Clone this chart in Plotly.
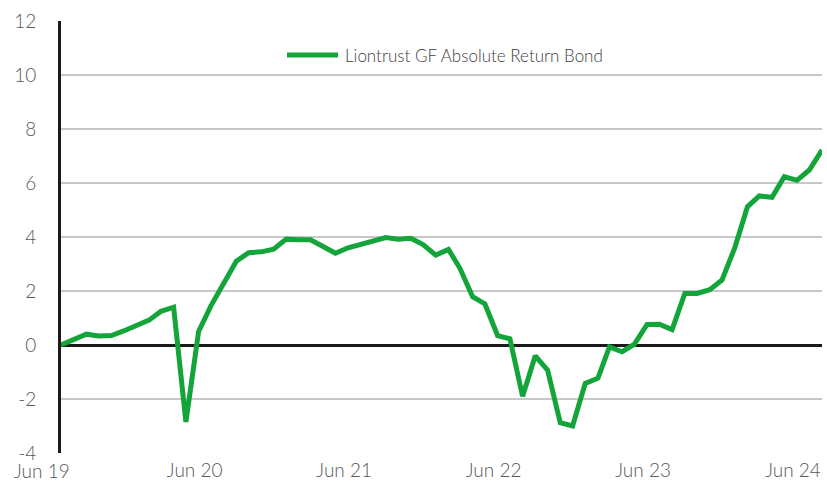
import plotly.graph_objects as go
import pandas as pd

# Monthly cumulative performance (%), Jul 2019 - Aug 2024
months = pd.date_range("2019-07-01", "2024-08-01", freq="MS")
values = [
    0.0, 0.2, 0.4, 0.33, 0.35, 0.52, 0.72, 0.92, 1.25, 1.4,
    -2.85, 0.5, 1.45, 2.25, 3.1, 3.42, 3.45, 3.55, 3.92, 3.9,
    3.9, 3.65, 3.4, 3.6, 3.72, 3.88, 3.98, 3.92, 3.95, 3.72,
    3.33, 3.54, 2.84, 1.79, 1.52, 0.35, 0.23, -1.9, -0.4, -0.93,
    -2.88, -3.0, -1.42, -1.23, -0.07, -0.25, 0.03, 0.76, 0.77, 0.57,
    1.91, 1.91, 2.05, 2.41, 3.6, 5.12, 5.52, 5.47, 6.23, 6.1,
    6.48, 7.22,
]
series_name = "Liontrust GF Absolute Return Bond"

y_tickvals = [-4, -2, 0, 2, 4, 6, 8, 10, 12]
y_ticktext = ["-4", "-2", "0", "2", "4", "6", "8", "10", "12"]
x_tickvals = ["2020-06-01", "2021-06-01", "2022-06-01", "2023-06-01", "2024-06-01"]
x_ticktext = ["Jun 20", "Jun 21", "Jun 22", "Jun 23", "Jun 24"]
first_label = "Jun 19"

GREEN = "#13A43A"
FONT = "Lato"
TICK_COLOR = "#595959"
tick_font = dict(size=19, color=TICK_COLOR, family=FONT, weight=300)

fig = go.Figure()
fig.add_trace(go.Scatter(
    x=months, y=values, mode="lines", name=series_name,
    line=dict(color=GREEN, width=5), showlegend=False,
))

fig.update_layout(
    width=827, height=483,
    margin=dict(l=61, r=5, t=21, b=30),
    paper_bgcolor="white", plot_bgcolor="white",
    font=dict(family=FONT, color=TICK_COLOR, size=19),
    xaxis=dict(
        range=[months[0], months[-1]], automargin=False,
        showgrid=False, zeroline=False, showline=False,
        tickvals=x_tickvals, ticktext=x_ticktext,
        tickfont=tick_font, ticks="", ticklabelshift=-4, ticklabelstandoff=4,
    ),
    yaxis=dict(
        range=[-4, 12], tickvals=y_tickvals, ticktext=y_ticktext, automargin=False,
        showgrid=True, gridcolor="#C8C8C8", gridwidth=2,
        zeroline=True, zerolinecolor="#1A1A1A", zerolinewidth=3,
        showline=True, linecolor="#1A1A1A", linewidth=3,
        tickfont=tick_font, ticks="", ticklabelstandoff=18,
    ),
    showlegend=False,
)

# Jun 19 label sits left of the plot's first point
fig.add_annotation(
    xref="paper", yref="paper", x=0, y=0, xshift=-19, yshift=-5,
    xanchor="center", yanchor="top", text=first_label, showarrow=False,
    font=tick_font, borderpad=0,
)

# Legend drawn inside the plot
fig.add_shape(
    type="line", xref="paper", yref="paper",
    x0=(287 - 61) / 761, x1=(338 - 61) / 761, y0=(453 - 55) / 432, y1=(453 - 55) / 432,
    line=dict(color=GREEN, width=5),
)
fig.add_annotation(
    xref="paper", yref="paper", x=(343 - 61) / 761, y=(453 - 55) / 432,
    xanchor="left", yanchor="middle", text=series_name, showarrow=False,
    font=dict(size=17, color="#404040", family=FONT, weight=300),
)

fig.write_html("out.html", config={"displayModeBar": False},
               post_script="document.body.style.margin='0';")
